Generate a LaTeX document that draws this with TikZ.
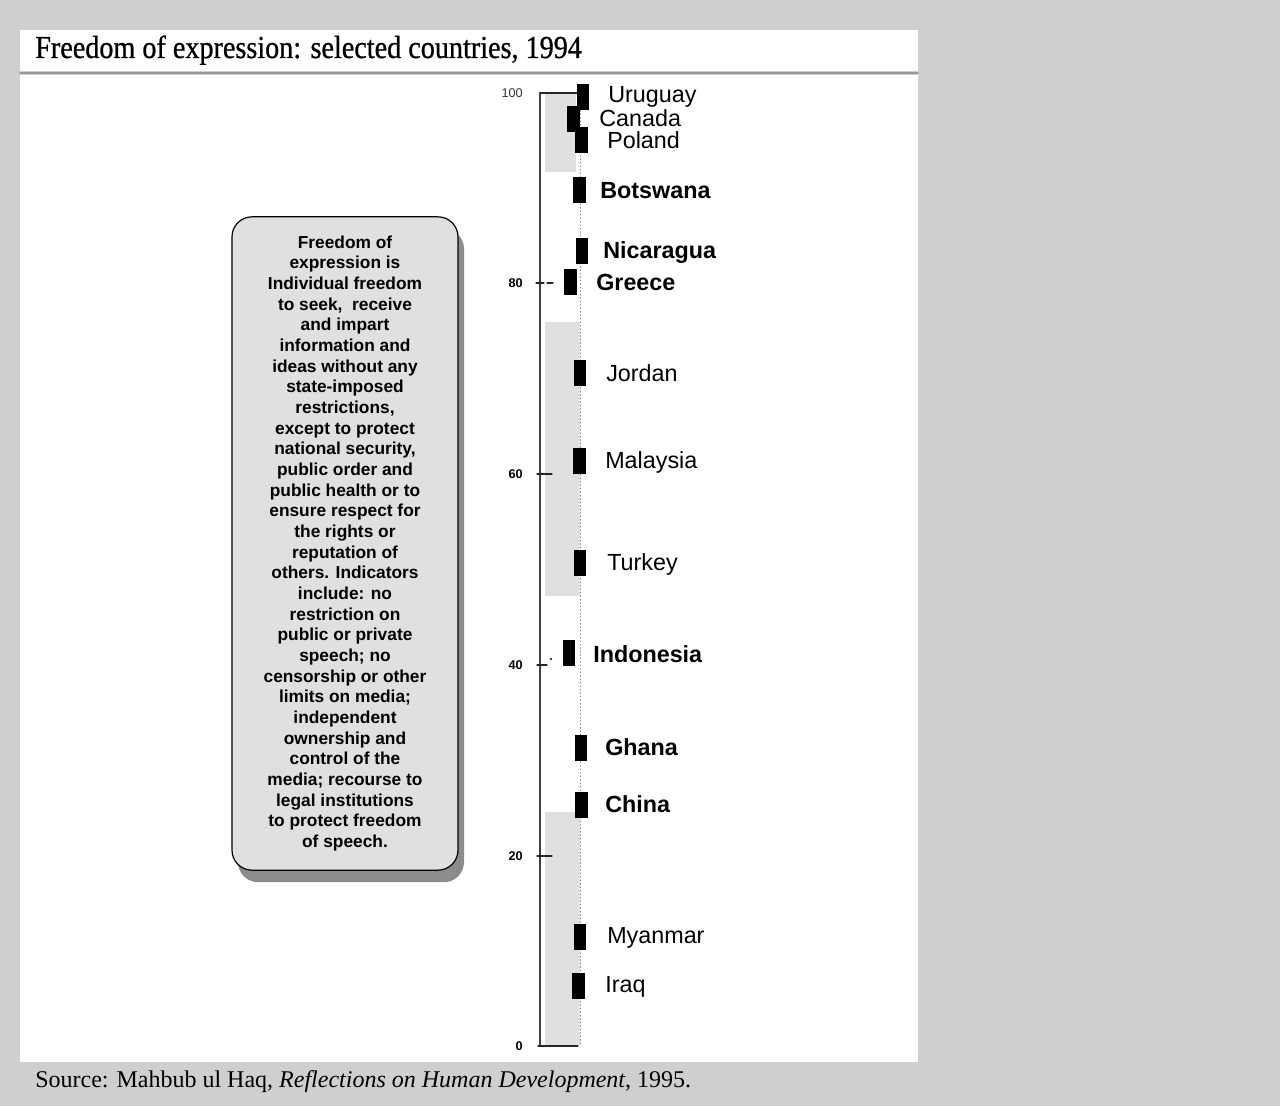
\documentclass[tikz,border=0pt]{standalone}
\usepackage{fontspec}
\setmainfont{Liberation Serif}
\setsansfont{Liberation Sans}
\newfontfamily\titlefont[FakeStretch=0.88, FakeBold=0.8]{Liberation Serif}
\usetikzlibrary{shadows}

\tikzset{
  marker/.style={fill=black, inner sep=0pt, minimum width=9.5pt, minimum height=19.5pt},
  country/.style={anchor=base west, inner sep=0pt, font=\sffamily\fontsize{17.5}{20}\selectfont},
  boldcountry/.style={country, font=\sffamily\bfseries\fontsize{17.5}{20}\selectfont},
  ticklabel/.style={anchor=east, inner sep=0pt, font=\sffamily\bfseries\fontsize{9.5}{11}\selectfont},
  tick/.style={line width=0.9pt, black!85},
}

\begin{document}
\begin{tikzpicture}[x=0.75pt, y=-0.75pt, line cap=round, line join=round]
      \path[use as bounding box] (0,0) rectangle (1280,1106);
      \fill[black!19] (0,0) rectangle (1280,1106);

      % title bar and chart panel
      \fill[white] (20,30) rectangle (918,71);
      \fill[white] (20,75) rectangle (918,1062);
      \draw[black!40, line width=1.2pt] (20,73) -- (918,73);

      \node[anchor=base west, inner sep=0pt, font=\titlefont\fontsize{24}{28}\selectfont] (title) at (35,58) {Freedom of expression: selected countries, 1994};
      \node[anchor=base west, inner sep=0pt, font=\fontsize{18}{21}\selectfont] (source) at (35,1087) {Source: Mahbub ul Haq, \textit{Reflections on Human Development}, 1995.};

      % definition box
      \node[draw, line width=0.9pt, rounded corners=15pt, fill=black!12,
            drop shadow={shadow xshift=4.5pt, shadow yshift=-9pt, fill=black!45, opacity=1},
            minimum width=169.5pt, minimum height=490pt, inner sep=0pt, align=center,
            font=\sffamily\bfseries\fontsize{13}{15.5}\selectfont] (defbox) at (345,543.5)
            {Freedom of\\ expression is\\ Individual freedom\\ to seek,\ \ receive\\ and impart\\
             information and\\ ideas without any\\ state-imposed\\ restrictions,\\ except to protect\\
             national security,\\ public order and\\ public health or to\\ ensure respect for\\
             the rights or\\ reputation of\\ others. Indicators\\ include: no\\ restriction on\\
             public or private\\ speech; no\\ censorship or other\\ limits on media;\\
             independent\\ ownership and\\ control of the\\ media; recourse to\\
             legal institutions\\ to protect freedom\\ of speech.};

      % column behind the markers
      \fill[black!12] (545,93) rectangle (576,172);
      \fill[black!12] (545,322) rectangle (580,596);
      \fill[black!12] (545,812) rectangle (580,1045);
      \draw[black!50, dotted, line width=0.6pt] (580,93) -- (580,1045);

      % axis and ticks
      \draw[black!75, line width=1.4pt] (540,93) -- (540,1046);
      \draw[tick] (540,93) -- (577,93);
      \draw[tick] (536,283) -- (544,283);
      \draw[tick] (547,283) -- (553,283);
      \draw[tick] (537,474) -- (552,474);
      \draw[tick] (537,665) -- (547,665);
      \fill (551,659) circle (1.2);
      \draw[tick] (537,856) -- (552,856);
      \draw[tick] (538,1046) -- (578,1046);

      \node[ticklabel, font=\sffamily\fontsize{9.5}{11}\selectfont, black!80] (t100) at (523,93) {100};
      \node[ticklabel] (t80) at (523,283) {80};
      \node[ticklabel] (t60) at (523,474) {60};
      \node[ticklabel] (t40) at (523,665) {40};
      \node[ticklabel] (t20) at (523,856) {20};
      \node[ticklabel] (t0) at (523,1046) {0};

      % markers
      \node[marker] (m-uruguay) at (583,97) {};
      \node[marker] (m-canada) at (573.5,118.5) {};
      \node[marker] (m-poland) at (581.5,140) {};
      \node[marker] (m-botswana) at (579.5,190) {};
      \node[marker] (m-nicaragua) at (582,251) {};
      \node[marker] (m-greece) at (570.5,282) {};
      \node[marker] (m-jordan) at (580,373) {};
      \node[marker] (m-malaysia) at (579.5,461) {};
      \node[marker] (m-turkey) at (580,563) {};
      \node[marker] (m-indonesia) at (569,653) {};
      \node[marker] (m-ghana) at (581,748) {};
      \node[marker] (m-china) at (581.5,805) {};
      \node[marker] (m-myanmar) at (580,937) {};
      \node[marker] (m-iraq) at (578.5,986) {};

      % country names
      \node[country] (l-uruguay) at (608,103) {Uruguay};
      \node[country] (l-canada) at (599,126.5) {Canada};
      \node[country] (l-poland) at (607,148) {Poland};
      \node[boldcountry] (l-botswana) at (600,198) {Botswana};
      \node[boldcountry] (l-nicaragua) at (603,258) {Nicaragua};
      \node[boldcountry] (l-greece) at (596,290) {Greece};
      \node[country] (l-jordan) at (606,381) {Jordan};
      \node[country] (l-malaysia) at (605,468) {Malaysia};
      \node[country] (l-turkey) at (607,570) {Turkey};
      \node[boldcountry] (l-indonesia) at (593,662) {Indonesia};
      \node[boldcountry] (l-ghana) at (605,755) {Ghana};
      \node[boldcountry] (l-china) at (605,812) {China};
      \node[country] (l-myanmar) at (607,943) {Myanmar};
      \node[country] (l-iraq) at (605,992) {Iraq};

    \end{tikzpicture}
\end{document}
